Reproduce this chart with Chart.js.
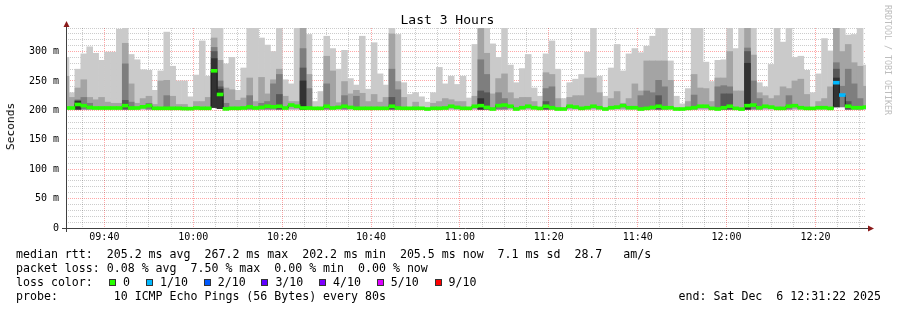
<!DOCTYPE html>
<html>
<head>
<meta charset="utf-8">
<script src="https://cdn.jsdelivr.net/npm/chart.js@4.4.1/dist/chart.umd.min.js"></script>
<style>
  html, body { margin: 0; padding: 0; background: #fff; }
  #wrap { position: relative; width: 897px; height: 310px; overflow: hidden;
          font-family: "DejaVu Sans Mono", monospace; color: #000; }
  #wrap canvas { position: absolute; left: 0; top: 0; }
  .t { position: absolute; white-space: pre; }
  #title { left: 0; width: 895px; top: 13px; text-align: center; font-size: 13px; line-height: 13px; }
  #ylab { left: 5px; top: 103px; font-size: 11.2px; line-height: 12px;
          writing-mode: vertical-rl; transform: rotate(180deg); }
  #wm { left: 883px; top: 5px; font-size: 8.3px; line-height: 10px; color: #bdbdbd;
        writing-mode: vertical-rl; }
  .row { left: 16px; font-size: 11.6px; line-height: 14px; }
  .box { position: absolute; width: 7px; height: 7px; box-sizing: border-box; border: 1px solid #333; }
  #end { right: 16px; font-size: 11.6px; line-height: 14px; }
</style>
</head>
<body>
<div id="wrap">
  <canvas id="c" width="897" height="310"></canvas>
  <div class="t" id="title">Last 3 Hours</div>
  <div class="t" id="ylab">Seconds</div>
  <div class="t" id="wm">RRDTOOL / TOBI OETIKER</div>
  <div class="t row" style="top:247px">median rtt:  205.2 ms avg  267.2 ms max  202.2 ms min  205.5 ms now  7.1 ms sd  28.7   am/s</div>
  <div class="t row" style="top:261px">packet loss: 0.08 % avg  7.50 % max  0.00 % min  0.00 % now</div>
  <div class="t row" style="top:275px">loss color:</div>
  <div class="t row" style="top:289px">probe:        10 ICMP Echo Pings (56 Bytes) every 80s</div>
  <div class="t" id="end" style="top:289px">end: Sat Dec  6 12:31:22 2025</div>
</div>
<script>
// 80 s steps, one per bar
const startTime = '09:31:22';
const endTime = '12:31:22';
const stepSec = 80;

const timeLabels = ['09:40', '10:00', '10:20', '10:40', '11:00', '11:20', '11:40', '12:00', '12:20'];
const yTickLabels = ['0', '50 m', '100 m', '150 m', '200 m', '250 m', '300 m'];

const lossLabels = ['0', '1/10', '2/10', '3/10', '4/10', '5/10', '9/10'];
const lossColors = ['#26ff00', '#00b8ff', '#0059ff', '#5e00ff', '#7e00ff', '#dd00ff', '#ff0000'];

// smoke: lowest ping and upper pings (ms), from outer to inner
const minRtt = [
  202,202,202,202,202,202,202,202,202,202, 202,202,202,202,202,202,202,202,202,202,
  202,202,202,202,202,205,203,202,202,202, 202,202,202,202,202,202,202,202,202,202,
  202,202,202,202,202,202,202,202,202,202, 202,202,202,202,202,202,202,202,202,202,
  202,202,202,202,202,202,202,202,202,202, 202,202,202,202,202,202,202,202,202,202,
  202,202,202,202,202,202,202,202,202,202, 202,202,202,202,202,202,202,202,202,202,
  202,202,202,202,202,202,202,202,202,202, 202,202,202,202,202,202,202,202,202,202,
  202,202,202,202,202,202,202,202,202,202, 206,206,202,202,202,202];
const maxRtt = [
  290,230,270,296,308,297,285,299,299,338, 340,295,286,269,268,234,267,333,275,250,
  250,223,260,318,258,340,340,279,290,234, 272,340,340,323,311,300,340,252,245,340,
  340,329,215,232,326,305,270,302,254,243, 326,236,315,262,243,340,329,247,227,230,
  223,214,230,273,245,258,244,258,221,312, 340,340,313,290,340,277,247,271,295,238,
  224,296,318,270,220,247,253,261,299,340, 258,224,272,312,267,296,305,298,309,326,
  340,340,284,224,211,237,340,340,282,249, 285,286,340,305,340,340,340,247,240,278,
  340,316,340,290,292,268,230,262,322,301, 340,340,328,329,340,277];
const rttP9 = [
  258,222,238,252,222,218,222,214,212,212, 314,245,212,220,224,210,250,251,224,210,
  210,null,215,215,222,323,285,238,235,217, 221,255,215,256,228,252,270,224,215,215,
  340,261,null,null,292,267,213,249,228,234, 229,215,227,214,222,330,249,222,null,214,
  null,null,212,215,220,218,215,215,null,224, 340,297,228,254,262,230,220,222,222,215,
  null,264,261,220,null,222,225,225,255,255, 230,null,220,232,212,220,245,233,284,284,
  284,284,251,null,null,215,261,238,237,215, 255,255,300,233,233,340,294,230,225,220,
  225,240,237,250,253,227,null,215,220,240, 340,300,312,281,275,241];
const rttP8 = [
  null,null,218,222,212,null,null,null,null,null, 279,214,null,null,212,null,null,225,null,null,
  null,null,null,null,null,307,250,212,null,null, null,225,null,212,215,245,261,null,null,null,
  305,237,null,null,245,null,null,225,null,224, null,null,null,null,null,270,235,null,null,null,
  null,null,null,null,null,null,null,null,null,null, 286,261,null,230,220,null,null,null,null,null,
  null,237,240,null,null,null,null,null,null,null, null,null,null,null,null,null,null,225,233,230,
  251,240,null,null,null,null,226,null,null,null, 240,242,240,null,null,306,250,220,null,null,
  null,null,225,null,null,null,null,null,null,null, 281,241,270,245,220,null];
const rttP7 = [
  null,null,211,null,null,null,null,null,null,null, 217,null,null,null,null,null,null,null,null,null,
  null,null,null,null,null,300,240,null,null,null, null,null,null,null,null,null,227,null,null,null,
  272,null,null,null,null,null,null,null,null,null, null,null,null,null,null,222,null,null,null,null,
  null,null,null,null,null,null,null,null,null,null, 233,230,null,null,null,null,null,null,null,null,
  null,215,null,null,null,null,null,null,null,null, null,null,null,null,null,null,null,null,null,null,
  225,null,null,null,null,null,null,null,null,null, null,228,228,null,null,300,null,null,null,null,
  null,null,null,null,null,null,null,null,null,null, 270,null,215,null,null,null];
const rttP6 = [
  null,null,216,null,null,null,null,null,null,null, null,null,null,null,null,null,null,null,null,null,
  null,null,null,null,null,288,236,null,null,null, null,null,null,null,null,null,null,null,null,null,
  250,null,null,null,null,null,null,null,null,null, null,null,null,null,null,null,null,null,null,null,
  null,null,null,null,null,null,null,null,null,null, 220,null,null,null,null,null,null,null,null,null,
  null,null,null,null,null,null,null,null,null,null, null,null,null,null,null,null,null,null,null,null,
  null,null,null,null,null,null,null,null,null,null, null,null,null,null,null,280,null,null,null,null,
  null,null,null,null,null,null,null,null,null,null, 255,null,null,null,null,null];
const medianRtt = [
  204,204,210,208,205,204,204,204,204,204, 208,204,204,206,208,203.5,203.5,203.5,203.5,203.5,
  203,203,204,203.5,203.5,267.2,227,202.5,203.5,203.5, 204,206,204,205,207,206,207,204,209,207,
  204,204,203.5,203.5,207,204,205,207,205,203.5, 203.5,203.5,203.5,203.5,203.5,207,204,203.5,203.5,203.5,
  203.5,202.3,203.5,203.5,204,207,205,203.5,203.5,207, 208,205,202.3,208,209,207,202.3,204.5,207,204.5,
  203.4,207,204.5,202.3,202.3,207,205.5,203.4,204.5,207, 204.5,202.3,204.5,205.5,208,204.5,204.5,202.3,203.4,205,
  207,204.5,204.5,202.3,202.3,203.4,204.5,207,207,203.4, 202.3,204.5,207,203.4,202.2,208,209,204.5,207,205.5,
  203.4,203.4,207,208,204.5,203.4,203.4,204.5,204.5,203.4, 247,226,207,204.5,204.5,205.5];
// lost pings out of 10, per step
const lossCount = [
  0,0,0,0,0,0,0,0,0,0, 0,0,0,0,0,0,0,0,0,0,
  0,0,0,0,0,0,0,0,0,0, 0,0,0,0,0,0,0,0,0,0,
  0,0,0,0,0,0,0,0,0,0, 0,0,0,0,0,0,0,0,0,0,
  0,0,0,0,0,0,0,0,0,0, 0,0,0,0,0,0,0,0,0,0,
  0,0,0,0,0,0,0,0,0,0, 0,0,0,0,0,0,0,0,0,0,
  0,0,0,0,0,0,0,0,0,0, 0,0,0,0,0,0,0,0,0,0,
  0,0,0,0,0,0,0,0,0,0, 1,1,0,0,0,0];

function toMin(s) {
  const p = s.split(':').map(Number);
  return (p[0] - 9) * 60 + p[1] + (p[2] || 0) / 60;
}
function fmtMin(m) {
  const h = Math.floor(m / 60) + 9, mm = Math.round(m % 60);
  return String(h).padStart(2, '0') + ':' + String(mm).padStart(2, '0');
}

const x0 = toMin(startTime), x1 = toMin(endTime);
const barTimes = medianRtt.map((_, i) => x0 + i * stepSec / 60);
const labelMins = timeLabels.map(toMin);

const xGrid = [];
for (let m = 35; m <= 210; m += 5) xGrid.push(m);
const yGrid = [];
for (let v = 0; v <= 340; v += 10) yGrid.push(v);

const bandHalf = 2.5;
const minorColor = 'rgba(0,0,0,0.2)';
const majorColor = 'rgba(255,0,0,0.35)';

function smoke(vals, color, order) {
  return {
    type: 'bar',
    data: vals.map((v, i) => v == null ? null : { x: barTimes[i], y: [minRtt[i], v] }).filter(Boolean),
    backgroundColor: color,
    order: order
  };
}

// loss legend
const wrap = document.getElementById('wrap');
lossLabels.forEach((lab, i) => {
  const left = i === 0 ? 109 : 146 + (i - 1) * 57.7;
  const b = document.createElement('div');
  b.className = 'box';
  b.style.left = left + 'px';
  b.style.top = '279px';
  b.style.background = lossColors[i];
  wrap.appendChild(b);
  const t = document.createElement('div');
  t.className = 't row';
  t.style.left = (left + 14) + 'px';
  t.style.top = '275px';
  t.textContent = lab;
  wrap.appendChild(t);
});

const axisArrows = {
  id: 'axisArrows',
  afterDraw(chart) {
    const { ctx, chartArea: a } = chart;
    const xl = a.left + 0.5, yb = a.bottom + 0.5;
    ctx.save();
    ctx.strokeStyle = '#404040';
    ctx.lineWidth = 1;
    ctx.beginPath();
    ctx.moveTo(a.left - 4, yb); ctx.lineTo(a.right + 3, yb);
    ctx.moveTo(xl, a.bottom + 4); ctx.lineTo(xl, a.top - 2);
    ctx.stroke();
    ctx.fillStyle = '#8b1a1a';
    ctx.beginPath();
    ctx.moveTo(xl - 3, a.top - 1); ctx.lineTo(xl + 3, a.top - 1); ctx.lineTo(xl, a.top - 7);
    ctx.closePath(); ctx.fill();
    ctx.beginPath();
    ctx.moveTo(a.right + 2, yb - 3); ctx.lineTo(a.right + 2, yb + 3); ctx.lineTo(a.right + 8, yb);
    ctx.closePath(); ctx.fill();
    ctx.restore();
  }
};

const tickFont = { family: 'DejaVu Sans Mono', size: 10 };

new Chart(document.getElementById('c').getContext('2d'), {
  data: {
    datasets: [
      smoke(maxRtt, '#cacaca', 10),
      smoke(rttP9, '#a4a4a4', 9),
      smoke(rttP8, '#7e7e7e', 8),
      smoke(rttP7, '#585858', 7),
      smoke(rttP6, '#323232', 6),
      {
        type: 'line',
        data: medianRtt.map((m, i) => ({ x: barTimes[i], y: m })),
        borderColor: '#202020',
        borderWidth: 1,
        pointRadius: 0,
        stepped: 'middle',
        order: 2
      },
      {
        type: 'bar',
        data: medianRtt.map((m, i) => ({ x: barTimes[i], y: [m - bandHalf, m + bandHalf] })),
        backgroundColor: lossCount.map(n => lossColors[n]),
        order: 1
      }
    ]
  },
  options: {
    responsive: false,
    animation: false,
    devicePixelRatio: 1,
    layout: { padding: { left: 0, right: 31, top: 28, bottom: 0 } },
    plugins: { legend: { display: false }, tooltip: { enabled: false } },
    datasets: { bar: { grouped: false, barPercentage: 1, categoryPercentage: 1, borderWidth: 0 } },
    scales: {
      x: {
        type: 'linear',
        offset: false,
        min: x0,
        max: x1,
        z: 1,
        afterBuildTicks: ax => { ax.ticks = xGrid.map(v => ({ value: v })); },
        afterFit: ax => { ax.height = 82; },
        grid: {
          offset: false,
          color: c => (c.tick && labelMins.includes(c.tick.value)) ? majorColor : minorColor,
          drawTicks: false
        },
        border: { display: false, dash: [1, 1] },
        ticks: {
          autoSkip: false, maxRotation: 0, padding: 3, color: '#000', font: tickFont,
          callback: v => labelMins.includes(v) ? fmtMin(v) : ''
        }
      },
      y: {
        min: 0,
        max: 340,
        z: 1,
        afterBuildTicks: ax => { ax.ticks = yGrid.map(v => ({ value: v })); },
        afterFit: ax => { ax.width = 66; },
        grid: {
          color: c => (c.tick && c.tick.value % 50 === 0) ? majorColor : minorColor,
          drawTicks: false
        },
        border: { display: false, dash: [1, 1] },
        ticks: {
          autoSkip: false, padding: 7, color: '#000', font: tickFont,
          callback: v => v % 50 === 0 ? yTickLabels[v / 50] : ''
        }
      }
    }
  },
  plugins: [axisArrows]
});
</script>
</body>
</html>
